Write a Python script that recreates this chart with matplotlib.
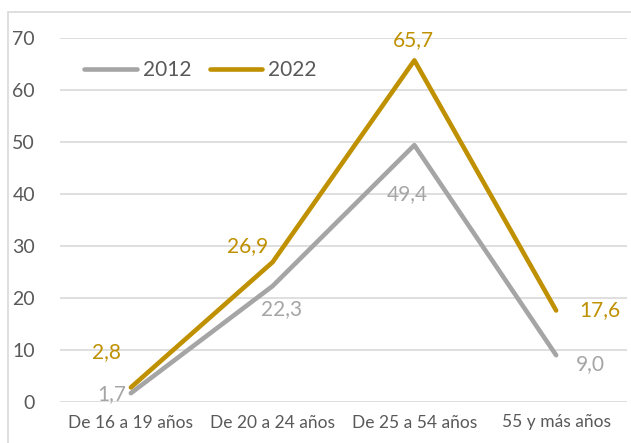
import matplotlib
matplotlib.use("Agg")
import matplotlib.pyplot as plt
from matplotlib.patches import Rectangle

plt.rcParams["font.family"] = ["Lato", "DejaVu Sans"]

categorias = ["De 16 a 19 años", "De 20 a 24 años", "De 25 a 54 años", "55 y más años"]
valores_2012 = [1.7, 22.3, 49.4, 9.0]
valores_2022 = [2.8, 26.9, 65.7, 17.6]

gris = "#A5A5A5"
dorado = "#BF9000"
texto = "#595959"

# desplazamientos de las etiquetas (pixeles)
off_2012 = [(-19, -1), (9, -23), (-7, -49), (34, -9)]
off_2022 = [(-24, 35), (-25, 16), (-1, 20), (44, 0)]

fig = plt.figure(figsize=(6.31, 4.43), dpi=100)
ax = fig.add_axes([60 / 631, 41 / 443, 567 / 631, 364 / 443])

x = range(len(categorias))
ax.plot(x, valores_2012, color=gris, lw=3.3, label="2012", solid_capstyle="round")
ax.plot(x, valores_2022, color=dorado, lw=3.3, label="2022", solid_capstyle="round")

for i, v in enumerate(valores_2012):
    ax.annotate(f"{v:.1f}".replace(".", ","), (i, v), xytext=off_2012[i],
                textcoords="offset pixels", ha="center", va="center",
                color=gris, fontsize=15)
for i, v in enumerate(valores_2022):
    ax.annotate(f"{v:.1f}".replace(".", ","), (i, v), xytext=off_2022[i],
                textcoords="offset pixels", ha="center", va="center",
                color=dorado, fontsize=15)

ax.set_xlim(-0.5, len(categorias) - 0.5)
ax.set_ylim(0, 70)
ax.set_yticks(range(0, 71, 10))
ax.set_xticks(list(x))
ax.set_xticklabels(categorias, fontsize=12.5, color=texto)
ax.tick_params(axis="y", labelsize=14, labelcolor=texto, length=0, pad=18)
ax.tick_params(axis="x", length=0, pad=9)
ax.grid(axis="y", color="#D9D9D9", lw=1.2)
ax.set_axisbelow(True)
for s in ax.spines.values():
    s.set_visible(False)

ax.legend(loc="upper left", bbox_to_anchor=(0.01, 0.99), ncol=2, frameon=False,
          fontsize=15, labelcolor=texto, handlelength=2.5, handletextpad=0.3,
          columnspacing=0.9)

fig.patches.append(Rectangle((8 / 631, -0.1), 1.2, 1.1 - 12 / 443,
                             transform=fig.transFigure, fill=False,
                             edgecolor="#D9D9D9", lw=1.2))

fig.savefig("out.png", dpi=100)
